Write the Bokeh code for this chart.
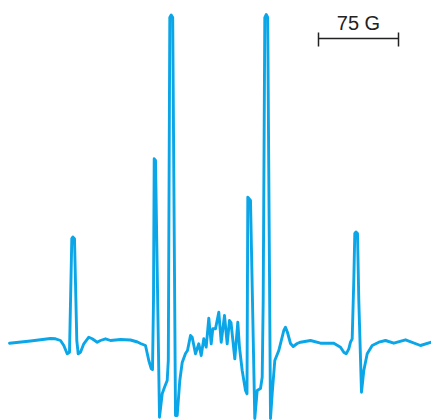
from bokeh.plotting import figure
from bokeh.models import Range1d
from bokeh.core.properties import value
from bokeh.embed import file_html
from bokeh.resources import INLINE

# EPR spectrum trace: field position (arbitrary units, 80 units = 75 G) and signal (a.u.)
field = [9, 30, 50, 55, 60, 63.3, 66.7, 69, 71.3, 72.3, 74, 76.3, 77.7, 80, 83.3, 88.3, 91.7,
         96.7, 100, 105, 110, 120, 130, 137, 140, 145, 148.3, 150.7, 152, 153, 153.7, 155,
         159, 161.7, 164, 166.7, 167.8, 169.3, 170.7, 172.2, 175, 176.7, 179.3, 181.7, 185,
         187, 190, 191.7, 195, 198.3, 200.7, 203.3, 205.7, 208.3, 210.7, 212.3, 215, 218.3,
         220.7, 224, 226.7, 229, 230.5, 234.3, 237.3, 239, 241.7, 245, 246.5, 247.3, 250,
         254.3, 256.7, 260, 261.7, 262.7, 264.3, 265.7, 267.2, 270, 271.7, 274.3, 278.3,
         283.3, 285, 287, 290, 292.7, 296.7, 300, 310, 320, 333.3, 340, 343.3, 345.7, 348.3,
         350, 351.7, 353.3, 354.3, 355.5, 357, 358.3, 361, 363.3, 366.7, 371.7, 378.3, 385,
         393.3, 405, 420, 431]
signal = [-0.7, 1.5, 4, 3.7, 2, -3, -11.3, -9.7, 104, 105.5, 103.7, 2, -11.3, -9.7, -1.3, 5.3, 3.7,
          0.3, 2, 3.7, 2, 3, 2.5, 0.5, -1, -3, -18, -26, -27, 42, 183.7, 182,
          -74.7, -51.3, -44.7, -38, -18, 325, 327.5, 325, -73, -73, -38, -20, -11,
          -8, 7, 5.3, -11.3, -1.3, -13, 3.7, -4.7, 24.3, -1.3, 13.7, 13.7, 30.3,
          0.3, 27, -1.3, 22, 20, -16.3, 20.3, -5, -28, -48, -51.3, 145.3, 142,
          -76, -48, -46, -34.7, 42, 325, 328, 325, -76, -51, -18, -8,
          12, 15.3, 10, -1, -4, -1, 0.3, 2, -0.7, -0.7, -4.7, -9.7, -11.3, -6.3,
          0.3, 3.7, 62, 109, 110.5, 109, 42, -49.7, -28, -11.3, -3, 0.3, 2,
          -0.7, 2.7, -3, 0.3]

# scale bar (80 field units = 75 G)
scale_start = [318]
scale_end = [398]
scale_level = [304]
scale_tick_low = [296]
scale_tick_high = [310]
scale_text = ["75 G"]
scale_text_level = [320]

line_color = "#0AA6E8"
ink = "#222222"

p = figure(width=431, height=420, output_backend="svg", toolbar_location=None,
           x_range=Range1d(0, 431), y_range=Range1d(-78, 342), min_border=0)
p.xaxis.visible = False
p.yaxis.visible = False
p.grid.visible = False
p.outline_line_color = None
p.background_fill_color = "white"
p.border_fill_color = "white"

p.line(field, signal, line_color=line_color, line_width=2.9, line_join="round", line_cap="round")

# scale bar
p.segment(x0=scale_start, y0=scale_level, x1=scale_end, y1=scale_level, line_color=ink, line_width=1.5)
p.segment(x0=scale_start, y0=scale_tick_low, x1=scale_start, y1=scale_tick_high, line_color=ink, line_width=1.5)
p.segment(x0=scale_end, y0=scale_tick_low, x1=scale_end, y1=scale_tick_high, line_color=ink, line_width=1.5)
mid = [(a + b) / 2 for a, b in zip(scale_start, scale_end)]
p.text(x=mid, y=scale_text_level, text=scale_text, text_align="center", text_baseline="alphabetic",
       text_font=value("Liberation Sans"), text_font_size="20px", text_color=ink)

open("out.html", "w").write(file_html(p, INLINE))
